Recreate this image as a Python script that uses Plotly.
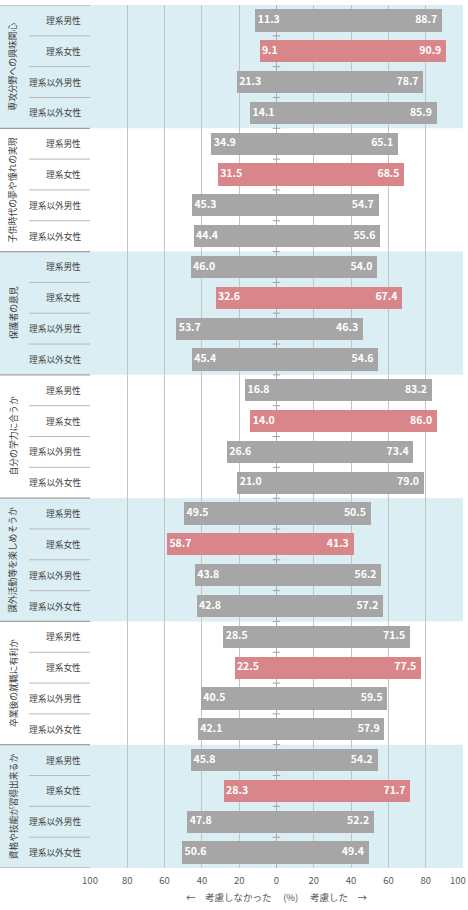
import plotly.graph_objects as go

groups = ["専攻分野への興味関心", "子供時代の夢や憧れの実現", "保護者の意見", "自分の学力に合うか",
          "課外活動等を楽しめそうか", "卒業後の就職に有利か", "資格や技能が習得出来るか"]
categories = ["理系男性", "理系女性", "理系以外男性", "理系以外女性"]

not_considered = [
    [11.3, 9.1, 21.3, 14.1],
    [34.9, 31.5, 45.3, 44.4],
    [46.0, 32.6, 53.7, 45.4],
    [16.8, 14.0, 26.6, 21.0],
    [49.5, 58.7, 43.8, 42.8],
    [28.5, 22.5, 40.5, 42.1],
    [45.8, 28.3, 47.8, 50.6],
]
considered = [
    [88.7, 90.9, 78.7, 85.9],
    [65.1, 68.5, 54.7, 55.6],
    [54.0, 67.4, 46.3, 54.6],
    [83.2, 86.0, 73.4, 79.0],
    [50.5, 41.3, 56.2, 57.2],
    [71.5, 77.5, 59.5, 57.9],
    [54.2, 71.7, 52.2, 49.4],
]
tick_vals = [-100, -80, -60, -40, -20, 0, 20, 40, 60, 80, 100]
tick_text = ["100", "80", "60", "40", "20", "0", "20", "40", "60", "80", "100"]
axis_title = "←　考慮しなかった　 (%)　 考慮した　→"

W, H = 468, 910
GRAY = "#a6a6a6"
PINK = "#d9868b"
BLUE = "#daeef3"
JP = "Noto Sans CJK JP"
NB = "\u00a0"

ypos, left_vals, right_vals, colors = [], [], [], []
for g in range(len(groups)):
    for c in range(len(categories)):
        ypos.append(g * 4 + c)
        left_vals.append(-not_considered[g][c])
        right_vals.append(considered[g][c])
        colors.append(PINK if categories[c] == "理系女性" else GRAY)

fig = go.Figure()
for vals in (left_vals, right_vals):
    fig.add_trace(go.Bar(orientation="h", x=vals, y=ypos, width=0.72,
                         marker=dict(color=colors, line=dict(width=0)),
                         hoverinfo="skip", showlegend=False))
label_font = dict(family=JP, size=10.5, color="white", weight="bold")
fig.add_trace(go.Scatter(x=left_vals, y=ypos, mode="text",
                         text=[f"{NB}{-v:.1f}" for v in left_vals], textposition="middle right",
                         textfont=label_font, hoverinfo="skip", showlegend=False, cliponaxis=False))
fig.add_trace(go.Scatter(x=right_vals, y=ypos, mode="text",
                         text=[f"{v:.1f}{NB}{NB}" for v in right_vals], textposition="middle left",
                         textfont=label_font, hoverinfo="skip", showlegend=False, cliponaxis=False))

dom0, dom1 = 90 / W, 463 / W
shapes = []
n = len(groups) * 4
for g in range(len(groups)):
    if g % 2 == 0:
        shapes.append(dict(type="rect", xref="paper", yref="y", x0=0, x1=dom1,
                           y0=g * 4 - 0.5, y1=g * 4 + 3.5, fillcolor=BLUE,
                           line=dict(width=0), layer="below"))
for k in range(n + 1):
    yv = k - 0.5
    if k % 4 == 0:
        shapes.append(dict(type="line", xref="paper", yref="y", x0=0, x1=dom0,
                           y0=yv, y1=yv, line=dict(color="#a0a0a0", width=1.2)))
    else:
        shapes.append(dict(type="line", xref="paper", yref="y", x0=29 / W, x1=dom0,
                           y0=yv, y1=yv, line=dict(color="#b8b8b8", width=1)))
    if 0 < k < n:
        shapes.append(dict(type="line", xref="x", yref="y", x0=-2, x1=2,
                           y0=yv, y1=yv, line=dict(color="#a0a0a0", width=1)))

annotations = []
for g, name in enumerate(groups):
    annotations.append(dict(text=name, xref="paper", yref="y", x=13 / W, y=g * 4 + 1.5,
                            textangle=-90, showarrow=False, xanchor="center", yanchor="middle",
                            font=dict(family=JP, size=8.8, color="#404040")))
    for c, cat in enumerate(categories):
        annotations.append(dict(text=cat, xref="paper", yref="y", x=83 / W, y=g * 4 + c,
                                showarrow=False, xanchor="right", yanchor="middle",
                                font=dict(family=JP, size=8.7, color="#404040")))
annotations.append(dict(text=axis_title, xref="x", yref="paper", x=0, y=-29 / 863,
                        showarrow=False, xanchor="center", yanchor="middle",
                        font=dict(family=JP, size=9.5, color="#595959")))
# right-most tick label, kept fully inside the page
annotations.append(dict(text=tick_text[-1], xref="paper", yref="paper", x=1.0, y=-12 / 863,
                        showarrow=False, xanchor="right", yanchor="middle",
                        font=dict(family=JP, size=9.5, color="#595959")))

fig.update_layout(
    width=W, height=H, margin=dict(l=0, r=0, t=5, b=42, autoexpand=False),
    paper_bgcolor="white", plot_bgcolor="rgba(0,0,0,0)",
    barmode="relative", bargap=0,
    shapes=shapes, annotations=annotations,
    xaxis=dict(domain=[dom0, dom1], range=[-100, 100], tickvals=tick_vals, ticktext=tick_text,
               automargin=False, ticklabelstandoff=5,
               showgrid=True, gridcolor="#c4c4c4", gridwidth=1, zeroline=True,
               zerolinecolor="#b0b0b0", zerolinewidth=1, showline=False, ticks="",
               tickfont=dict(family=JP, size=9.5, color="#595959"), fixedrange=True),
    yaxis=dict(range=[n - 0.5, -0.5], showticklabels=False, showgrid=False, zeroline=False,
               showline=False, automargin=False),
)
fig.write_html("out.html")
